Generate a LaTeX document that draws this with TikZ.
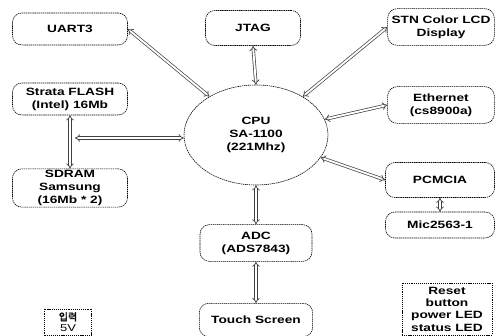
\documentclass[tikz,border=0pt]{standalone}
\usepackage{fontspec}
\setmainfont{Liberation Sans}[FakeStretch=1.3]
\newfontfamily\krfont[FakeBold=2]{Noto Sans CJK KR}
\usepackage{xcolor}
\usepackage{tikz}
\usetikzlibrary{shapes.geometric,arrows.meta}

\begin{document}
\begin{tikzpicture}[x=0.03cm, y=-0.03cm,
  blk/.style={draw, line width=0.5pt, dash pattern=on 1.2pt off 0.6pt, rounded corners=8pt, align=center, inner sep=1pt, font=\bfseries\fontsize{9}{11}\selectfont},
  boxd/.style={draw, line width=0.5pt, dash pattern=on 1pt off 0.8pt, align=center, inner sep=1pt, font=\bfseries\fontsize{9}{10.5}\selectfont},
  link/.style={draw=black!75, line width=0.6pt, double, double distance=1.6pt, {Implies}-{Implies}}]
\useasboundingbox (0,0) rectangle (503,336);
\node[blk, minimum width=3.45cm, minimum height=0.96cm] (uart) at (70,29) {UART3};
\node[blk, minimum width=2.85cm, minimum height=1.05cm] (jtag) at (253,28) {JTAG};
\node[blk, minimum width=3.2cm, minimum height=1.1cm] (lcd) at (441,27) {STN Color LCD\\Display};
\node[blk, minimum width=3.45cm, minimum height=0.96cm] (flash) at (70,99) {Strata FLASH\\(Intel) 16Mb};
\node[blk, minimum width=3.45cm, minimum height=1.15cm] (sdram) at (70,188) {SDRAM\\Samsung\\(16Mb * 2)};
\node[draw, line width=0.5pt, dash pattern=on 1.2pt off 0.6pt, ellipse, minimum width=4.32cm, minimum height=3cm, align=center, font=\bfseries\fontsize{9}{11}\selectfont] (cpu) at (256,135) {CPU\\SA-1100\\(221Mhz)};
\node[blk, minimum width=3.2cm, minimum height=1.1cm] (eth) at (441,105) {Ethernet\\(cs8900a)};
\node[blk, minimum width=3.27cm, minimum height=1.05cm] (pcm) at (440,180) {PCMCIA};
\node[blk, minimum width=3.27cm, minimum height=0.78cm] (mic) at (440,225) {Mic2563-1};
\node[blk, minimum width=3.36cm, minimum height=1.1cm] (adc) at (256,243) {ADC\\(ADS7843)};
\node[blk, minimum width=3.4cm, minimum height=1cm] (touch) at (256,320) {Touch Screen};
\node[boxd, minimum width=1.41cm, minimum height=0.78cm, font=\fontsize{8.5}{9.5}\selectfont] (pwr) at (68,322) {{\krfont 입력}\\5V};
\node[boxd, minimum width=2.7cm, minimum height=1.56cm] (reset) at (447,309) {Reset\\button\\power LED\\status LED};
\coordinate (bus) at (75,138);
\draw[link] (uart.east) -- (cpu);
\draw[link] (jtag.south) -- (cpu.north);
\draw[link] (lcd.west) -- (cpu);
\draw[link] (eth.west) -- (cpu);
\draw[link] (pcm.west) -- (cpu);
\draw[link] (adc.north) -- (cpu.south);
\draw[link] (flash.south) -- (sdram.north);
\draw[link] (bus) -- (bus -| cpu.west);
\draw[link] (pcm.south) -- (mic.north);
\draw[link] (adc.south) -- (touch.north);
\end{tikzpicture}
\end{document}
